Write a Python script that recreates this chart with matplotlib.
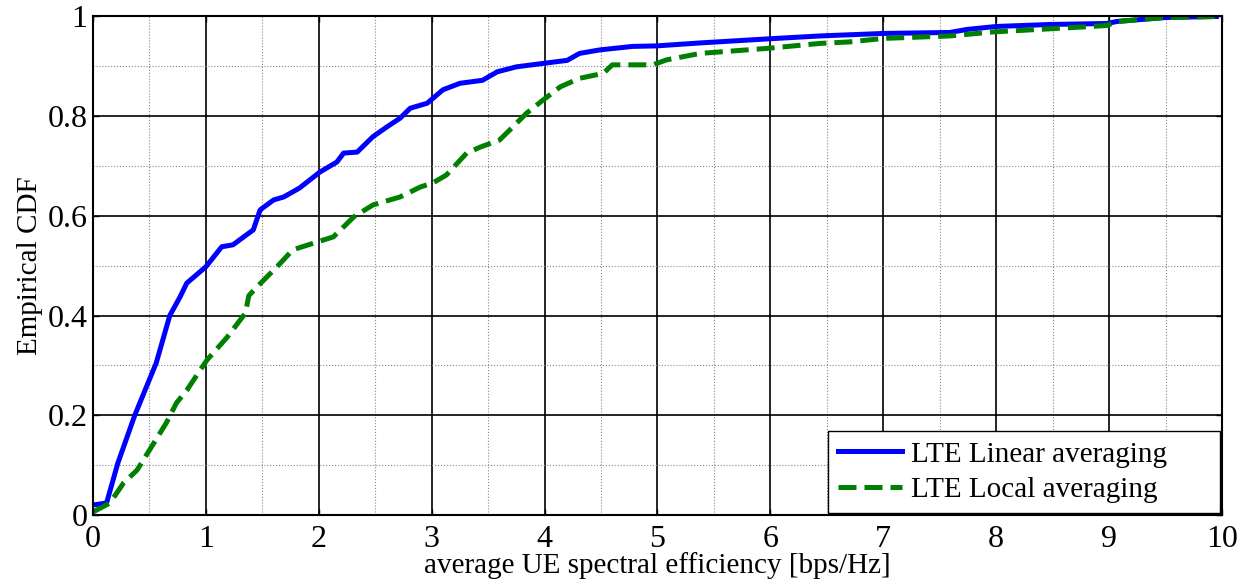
import matplotlib
matplotlib.use("Agg")
import matplotlib.pyplot as plt
from matplotlib.ticker import MultipleLocator

plt.rcParams['font.family'] = ['Liberation Serif', 'DejaVu Serif']

# LTE Linear averaging (blue solid)
lin_x = [0.0, 0.12, 0.22, 0.37, 0.56, 0.68, 0.77, 0.83, 1.0, 1.14, 1.24, 1.42, 1.48, 1.6, 1.69,
         1.83, 2.01, 2.16, 2.22, 2.34, 2.48, 2.6, 2.72, 2.81, 2.96, 3.1, 3.25, 3.45, 3.58, 3.75,
         3.99, 4.2, 4.31, 4.49, 4.78, 4.99, 5.38, 5.97, 6.44, 7.0, 7.59, 7.74, 8.0, 8.48, 8.98,
         9.07, 9.5, 9.95]
lin_y = [0.02, 0.024, 0.104, 0.2, 0.305, 0.4, 0.437, 0.465, 0.498, 0.538, 0.542, 0.572, 0.612,
         0.632, 0.638, 0.656, 0.688, 0.708, 0.726, 0.728, 0.759, 0.778, 0.796, 0.816, 0.826,
         0.853, 0.866, 0.872, 0.889, 0.899, 0.906, 0.912, 0.926, 0.933, 0.94, 0.941, 0.947,
         0.955, 0.961, 0.966, 0.968, 0.974, 0.98, 0.984, 0.986, 0.99, 0.998, 1.0]

# LTE Local averaging (green dashed)
loc_x = [0.0, 0.15, 0.27, 0.39, 0.5, 0.65, 0.74, 0.83, 1.01, 1.19, 1.35, 1.38, 1.45, 1.63, 1.77,
         1.95, 2.13, 2.31, 2.48, 2.72, 2.9, 3.01, 3.13, 3.31, 3.43, 3.6, 3.69, 3.84, 3.99, 4.14,
         4.31, 4.52, 4.6, 4.96, 5.08, 5.38, 5.97, 6.44, 6.7, 7.0, 7.59, 7.97, 8.77, 8.98, 9.07,
         9.5, 9.95]
loc_y = [0.006, 0.024, 0.064, 0.09, 0.13, 0.185, 0.225, 0.25, 0.311, 0.357, 0.405, 0.44, 0.457,
         0.498, 0.532, 0.545, 0.558, 0.598, 0.622, 0.638, 0.658, 0.666, 0.682, 0.726, 0.738,
         0.752, 0.772, 0.806, 0.833, 0.859, 0.876, 0.886, 0.903, 0.903, 0.913, 0.926, 0.936,
         0.946, 0.949, 0.956, 0.961, 0.969, 0.979, 0.982, 0.99, 0.998, 1.0]

x_ticks = [0, 1, 2, 3, 4, 5, 6, 7, 8, 9, 10]
y_ticks = [0, 0.2, 0.4, 0.6, 0.8, 1]
y_tick_labels = ['0', '0.2', '0.4', '0.6', '0.8', '1']

fig = plt.figure(figsize=(12.45, 5.85), dpi=100)
ax = fig.add_axes([0.0747, 0.1197, 0.9068, 0.8521])

ax.plot(lin_x, lin_y, color='#0000ff', lw=3.6, label='LTE Linear averaging', solid_joinstyle='round')
ax.plot(loc_x, loc_y, color='#008000', lw=3.6, ls=(0, (3.6, 1.6)), label='LTE Local averaging')

ax.set_xlim(0, 10)
ax.set_ylim(0, 1)
ax.set_xticks(x_ticks)
ax.set_xticklabels([str(t) for t in x_ticks])
ax.set_yticks(y_ticks)
ax.set_yticklabels(y_tick_labels)
ax.xaxis.set_minor_locator(MultipleLocator(0.5))
ax.yaxis.set_minor_locator(MultipleLocator(0.1))

ax.grid(which='major', color='black', lw=1.2, ls='-')
ax.grid(which='minor', color='#888888', lw=0.8, ls=':')
ax.set_axisbelow(True)

ax.tick_params(which='major', direction='in', length=4, width=1, top=True, right=True,
               labelsize=23, color='black')
ax.tick_params(axis='x', which='major', pad=7)
ax.tick_params(axis='y', which='major', pad=4)
ax.tick_params(which='minor', length=0)
for s in ax.spines.values():
    s.set_linewidth(1.5)
    s.set_color('black')

ax.set_xlabel('average UE spectral efficiency [bps/Hz]', fontsize=21, labelpad=-1)
ax.set_ylabel('Empirical CDF', fontsize=21, labelpad=3)

leg = ax.legend(loc='lower left', bbox_to_anchor=(0.651, 0.004, 0.347, 0.16), mode='expand',
                fontsize=21, frameon=True, fancybox=False, borderaxespad=0.0,
                handlelength=2.2, handletextpad=0.3, borderpad=0.35, labelspacing=0.3)
leg.get_frame().set_edgecolor('black')
leg.get_frame().set_linewidth(1.0)
leg.get_frame().set_alpha(1)

fig.savefig('out.png', dpi=100)
